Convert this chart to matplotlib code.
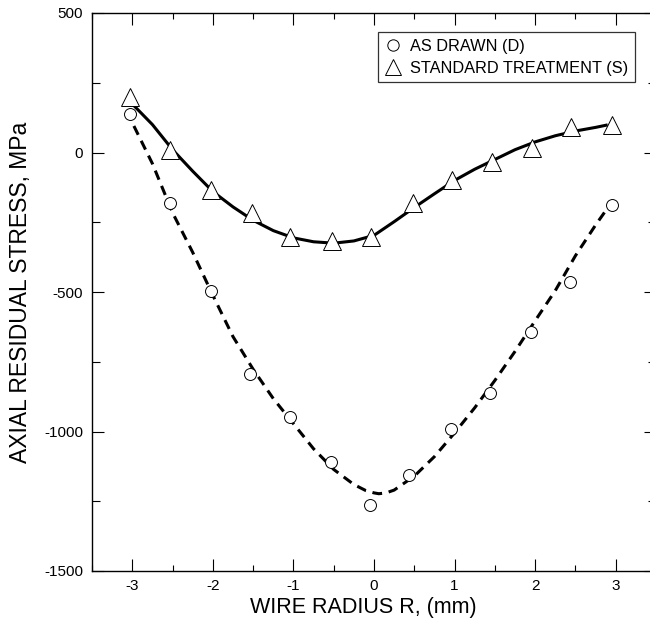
import matplotlib
matplotlib.use("Agg")
import matplotlib.pyplot as plt
from matplotlib.ticker import MultipleLocator

plt.rcParams['font.family'] = ['Liberation Sans', 'DejaVu Sans']

# Measured points: AS DRAWN (D)
d_x = [-3.03, -2.53, -2.02, -1.54, -1.04, -0.53, -0.05, 0.44, 0.95, 1.44, 1.95, 2.43, 2.96]
d_y = [138, -182, -495, -794, -949, -1108, -1263, -1156, -991, -861, -642, -463, -188]

# Measured points: STANDARD TREATMENT (S)
s_x = [-3.03, -2.53, -2.02, -1.52, -1.04, -0.52, -0.04, 0.48, 0.97, 1.47, 1.96, 2.44, 2.95]
s_y = [200, 9, -134, -216, -302, -316, -302, -180, -99, -33, 15, 90, 99]

# Fitted curves
d_fit_x = [-2.98, -2.75, -2.5, -2.25, -2.0, -1.75, -1.5, -1.25, -1.0, -0.75, -0.5, -0.25,
           -0.1, 0.0, 0.06, 0.15, 0.25, 0.5, 0.75, 1.0, 1.25, 1.5, 1.75, 2.0, 2.25, 2.5, 2.75, 2.86]
d_fit_y = [95, -40, -216, -358, -512, -660, -777, -882, -972, -1062, -1136, -1190,
           -1212, -1220, -1223, -1220, -1210, -1160, -1090, -1005, -915, -817, -713, -603, -495, -370, -260, -215]

s_fit_x = [-3.0, -2.75, -2.5, -2.25, -2.0, -1.75, -1.5, -1.25, -1.0, -0.75, -0.5, -0.25,
           0.0, 0.25, 0.5, 0.75, 1.0, 1.25, 1.5, 1.75, 2.0, 2.25, 2.5, 2.75, 2.9]
s_fit_y = [174, 100, 10, -67, -140, -195, -243, -280, -306, -320, -325, -317,
           -297, -248, -197, -148, -100, -60, -25, 10, 38, 60, 77, 90, 99]

x_ticks = [-3, -2, -1, 0, 1, 2, 3]
y_ticks = [500, 0, -500, -1000, -1500]

fig = plt.figure(figsize=(6.5, 6.24), dpi=100)
ax = fig.add_axes([92/650, 1 - 571/624, 564/650, 558/624])

ax.plot(s_fit_x, s_fit_y, color='black', lw=2.2, solid_capstyle='butt',
        solid_joinstyle='round', zorder=2)
ax.plot(d_fit_x, d_fit_y, color='black', lw=2.2, dashes=(3.2, 2.2), zorder=2)

ax.plot(d_x, d_y, linestyle='none', marker='o', ms=8.6, mfc='white', mec='black',
        mew=0.7, zorder=3, label='AS DRAWN (D)')
ax.plot(s_x, s_y, linestyle='none', marker='^', ms=12.5, mfc='white', mec='black',
        mew=0.7, zorder=3, label='STANDARD TREATMENT (S)')

ax.set_xlim(-3.5, 3.5)
ax.set_ylim(-1500, 500)
ax.set_xticks(x_ticks)
ax.set_xticklabels([str(v) for v in x_ticks])
ax.set_yticks(y_ticks)
ax.set_yticklabels([str(v) for v in y_ticks])
ax.xaxis.set_minor_locator(MultipleLocator(0.5))
ax.yaxis.set_minor_locator(MultipleLocator(250))

ax.tick_params(which='both', direction='in', top=True, right=True, width=0.8, labelsize=11)
ax.tick_params(axis='x', which='major', length=8.5, pad=5.5)
ax.tick_params(axis='x', which='minor', length=4)
ax.tick_params(axis='y', which='major', length=8.5, pad=6.5)
ax.tick_params(axis='y', which='minor', length=6)
for sp in ax.spines.values():
    sp.set_linewidth(1.0)

ax.set_xlabel('WIRE RADIUS R, (mm)', fontsize=15.5)
ax.xaxis.set_label_coords((363 - 92) / 564, -0.047)
ax.set_ylabel('AXIAL RESIDUAL STRESS, MPa', fontsize=16.5)
ax.yaxis.set_label_coords((32 - 92) / 564, 0.5)

leg = ax.legend(loc='upper right', bbox_to_anchor=((635 - 92) / 564, (571 - 32) / 558),
                borderaxespad=0, fontsize=11.8, frameon=True, fancybox=False,
                handletextpad=0.5, handlelength=1.1, borderpad=0.4, labelspacing=0.45,
                markerscale=0.95)
leg.get_frame().set_edgecolor('black')
leg.get_frame().set_linewidth(0.9)

fig.savefig('out.png', dpi=100)
